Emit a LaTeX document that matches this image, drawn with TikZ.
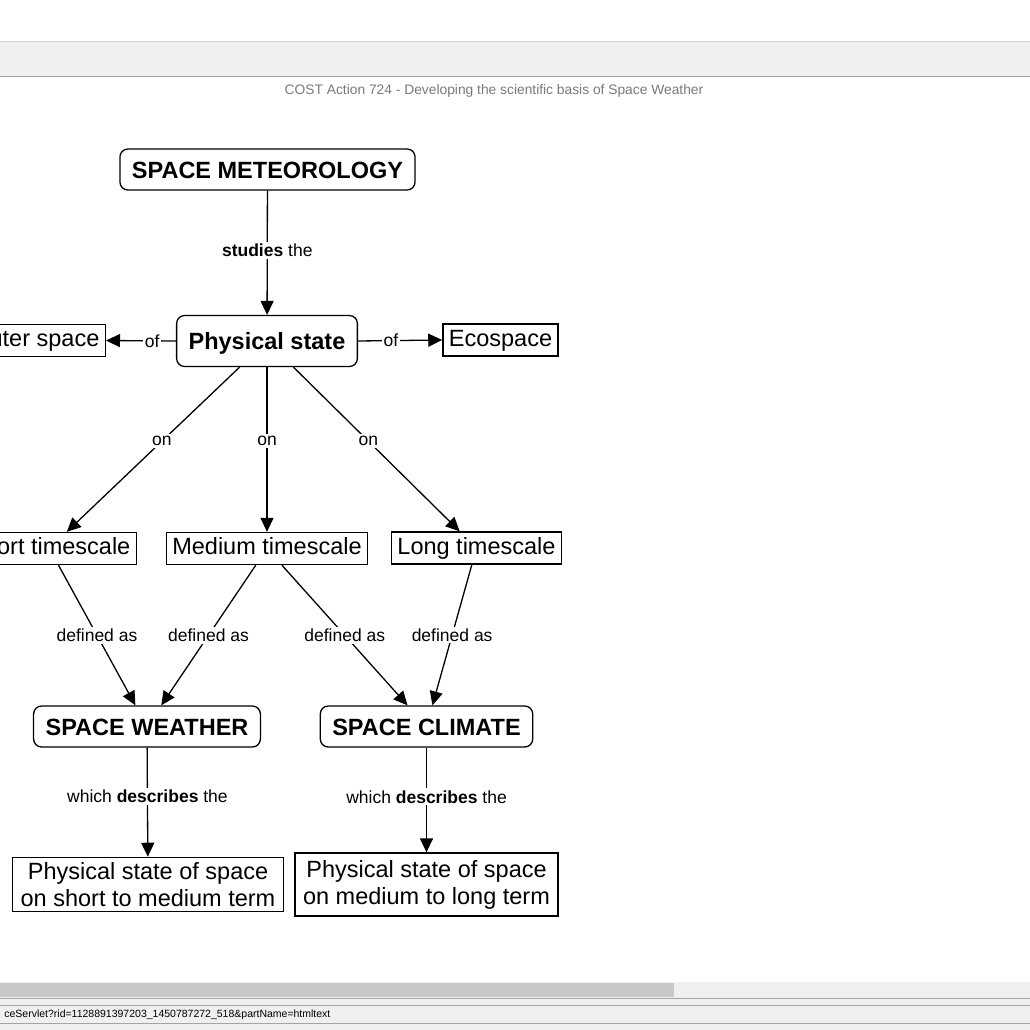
\documentclass[tikz,border=0pt]{standalone}
\usepackage{fontspec}
\setmainfont{Liberation Sans}
\usepackage{xcolor}
\usepackage{tikz}
\usetikzlibrary{arrows.meta}
\definecolor{barfill}{HTML}{F0F0F0}
\definecolor{barlight}{HTML}{D0D0D0}
\definecolor{bardark}{HTML}{A4A4A4}
\definecolor{thumbgray}{HTML}{C8C8C8}
\definecolor{titlegray}{HTML}{7A7A7A}
\newcommand{\nodefont}{\fontsize{23.5}{27}\selectfont}
\newcommand{\labfont}{\fontsize{17.5}{20}\selectfont}

\begin{document}
\begin{tikzpicture}[
    x=1pt,y=-1pt,
    >={Triangle[length=14pt,width=13pt]},
    link/.style={line width=1.3pt,->},
    concept/.style={draw,line width=1.3pt,rounded corners=8pt,font=\nodefont\bfseries,inner xsep=12pt,inner ysep=12pt,text height=17pt,text depth=0pt},
    box/.style={draw,line width=1.3pt,font=\nodefont,inner xsep=6pt,inner ysep=5pt,text height=17pt,text depth=5pt},
    termbox/.style={draw,line width=1.3pt,font=\nodefont,align=center,inner xsep=8pt,inner ysep=5pt},
    lab/.style={fill=white,font=\labfont,inner sep=2pt},
    bar/.style={line width=1pt},
    note/.style={font=\fontsize{13.8}{16}\selectfont,text=titlegray}
]
\clip (0,0) rectangle (1030,1030);
\fill[white] (0,0) rectangle (1030,1030);

% --- Window bars ---
\fill[barfill] (0,41.5) rectangle (1030,76.5);
\draw[bar,barlight] (0,41.5) -- (1030,41.5);
\draw[bar,bardark] (0,77) -- (1030,77);
\node[note] (hdr) at (494,91) {COST Action 724 - Developing the scientific basis of Space Weather};

\fill[barfill] (0,982) rectangle (1030,1030);
\fill[thumbgray] (0,983) rectangle (674,997);
\draw[bar,bardark] (0,998.5) -- (1030,998.5);
\draw[bar,bardark] (0,1005) -- (1030,1005);
\draw[bar,bardark] (0,1023) -- (1030,1023);
\node[font=\fontsize{10.5}{12}\selectfont,anchor=east] (url) at (334,1014.5) {ceServlet?rid=1128891397203\_1450787272\_518\&partName=htmltext};

% --- Concepts ---
\node[concept] (meteo) at (267.5,169.5) {SPACE METEOROLOGY};
\node[concept,minimum height=51pt] (phys) at (267,341) {Physical state};
\node[box,anchor=east] (outer) at (106,340.5) {Outer space};
\node[box] (eco) at (500.5,340) {Ecospace};

% Timescales
\node[box,anchor=east] (short) at (137,548.5) {Short timescale};
\node[box] (medium) at (267,548.5) {Medium timescale};
\node[box] (long) at (476.5,548) {Long timescale};

% Weather and climate
\node[concept] (weather) at (147,726.5) {SPACE WEATHER};
\node[concept] (climate) at (426.5,726.5) {SPACE CLIMATE};
\node[termbox] (termS) at (148,884.5) {Physical state of space\\on short to medium term};
\node[termbox,minimum height=63pt] (termL) at (426.5,884.5) {Physical state of space\\on medium to long term};

% --- Links ---
\draw[link] (meteo) -- node[lab,pos=.48]{\textbf{studies} the} (phys);
\draw[link] (phys.west) -- node[lab,pos=.34]{of} (outer.east);
\draw[link] (phys.east) -- node[lab,pos=.39]{of} (eco.west);

\draw[link] (phys) -- node[lab,pos=.45]{on} (short);
\draw[link] (phys) -- node[lab,pos=.45]{on} (medium);
\draw[link] (phys) -- node[lab,pos=.45]{on} (long);

\draw[link] (short) -- node[lab]{defined as} (weather);
\draw[link] (medium) -- node[lab]{defined as} (weather);
\draw[link] (medium) -- node[lab]{defined as} (climate);
\draw[link] (long) -- node[lab]{defined as} (climate);

\draw[link] (weather) -- node[lab,pos=.45]{which \textbf{describes} the} (termS);
\draw[link] (climate) -- node[lab,pos=.47]{which \textbf{describes} the} (termL);
\end{tikzpicture}
\end{document}
